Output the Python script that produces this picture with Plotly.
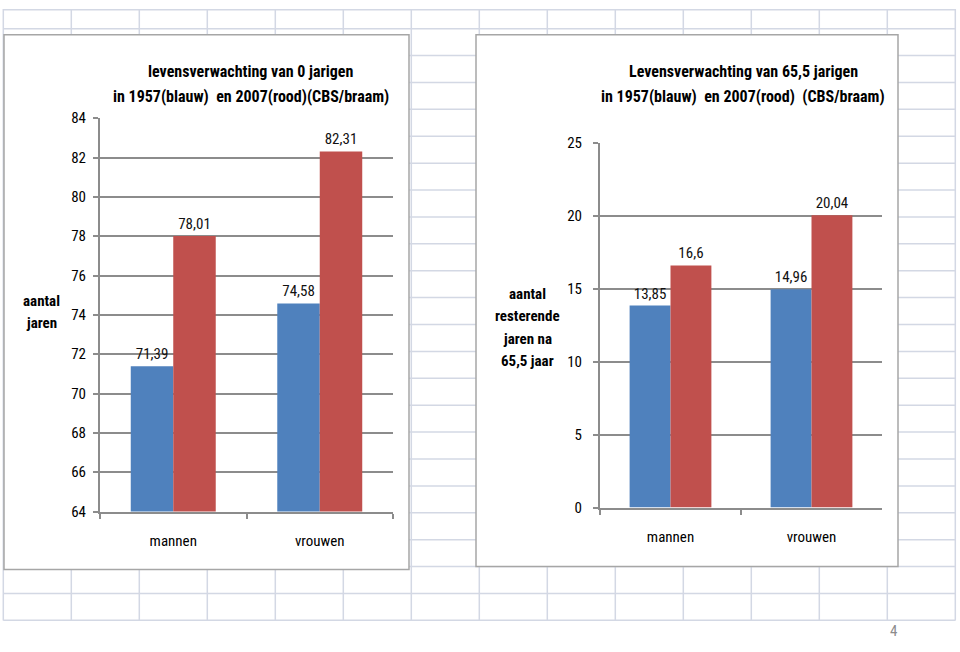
import plotly.graph_objects as go

W, H = 960, 652

categories = ["mannen", "vrouwen"]
left_1957 = [71.39, 74.58]
left_2007 = [78.01, 82.31]
right_1957 = [13.85, 14.96]
right_2007 = [16.6, 20.04]

left_title = ["levensverwachting van 0 jarigen",
              "in 1957(blauw)  en 2007(rood)(CBS/braam)"]
right_title = ["Levensverwachting van 65,5 jarigen",
               "in 1957(blauw)  en 2007(rood)  (CBS/braam)"]
left_ytitle = ["aantal", "jaren"]
right_ytitle = ["aantal", "resterende", "jaren na", "65,5 jaar"]
page_number = "4"

BLUE = "#4F81BD"
RED = "#C0504D"
FONT = "Liberation Sans Narrow, Arial Narrow, Roboto Condensed, Roboto, sans-serif"

# observed vertical mapping of the viewer: shown_y = 7.6 + 0.974 * fig_y
VA, VB = 7.6, 0.974


def X(px):
    return px / W


def Y(py):
    return 1 - ((py - VA) / VB) / H


def fmt(vals):
    return [f"{v:g}".replace(".", ",") for v in vals]


fig = go.Figure()

for vals, color, xa, ya in [
    (left_1957, BLUE, "x", "y"),
    (left_2007, RED, "x", "y"),
    (right_1957, BLUE, "x2", "y2"),
    (right_2007, RED, "x2", "y2"),
]:
    fig.add_trace(go.Bar(
        x=categories, y=vals, text=fmt(vals), textposition="outside",
        constraintext="none", cliponaxis=False,
        textfont=dict(size=15, color="#111111", family=FONT),
        marker=dict(color=color, line=dict(width=0)),
        xaxis=xa, yaxis=ya, hoverinfo="skip", showlegend=False,
    ))

shapes = []
GRID = "#D3D8E4"
gx0, gx1 = 3.3, 955.3
gy1 = 620
for k in range(15):
    x = 3.3 + 68.0 * k
    shapes.append(dict(type="line", xref="paper", yref="paper",
                       x0=X(x), x1=X(x), y0=1, y1=Y(gy1),
                       line=dict(color=GRID, width=1.5), layer="below"))
for k in range(0, 23):
    y = 27.3 + 26.94 * k
    shapes.append(dict(type="line", xref="paper", yref="paper",
                       x0=X(gx0), x1=X(gx1), y0=Y(y), y1=Y(y),
                       line=dict(color=GRID, width=1.5), layer="below"))
shapes.append(dict(type="line", xref="paper", yref="paper",
                   x0=X(gx0), x1=X(gx1), y0=0.999, y1=0.999,
                   line=dict(color=GRID, width=1.5), layer="below"))
for (x0, y0, x1, y1) in [(4, 33.5, 409, 569), (476, 33.5, 898, 566)]:
    shapes.append(dict(type="rect", xref="paper", yref="paper",
                       x0=X(x0), x1=X(x1), y0=Y(y1), y1=Y(y0),
                       fillcolor="white", line=dict(color="#A6A6A6", width=1.5),
                       layer="below"))

annotations = []


def add_lines(lines, cx, cy0, step, size):
    for i, t in enumerate(lines):
        annotations.append(dict(
            text=f"<b>{t}</b>", x=X(cx), y=Y(cy0 + i * step), xref="paper",
            yref="paper", showarrow=False,
            font=dict(size=size, family=FONT, color="#000"),
            xanchor="center", yanchor="middle"))


add_lines(left_title, 251, 70, 25, 16)
add_lines(right_title, 743, 70, 25, 16)
add_lines(left_ytitle, 41, 300, 22, 15)
add_lines(right_ytitle, 527, 293, 22.5, 15)
annotations.append(dict(text=page_number, x=X(893), y=0, xref="paper",
                        yref="paper", showarrow=False,
                        font=dict(size=15, family=FONT, color="#8C8C8C"),
                        xanchor="center", yanchor="bottom", yshift=1))

AX = "#8C8C8C"
xcommon = dict(type="category", showline=True, linecolor=AX, linewidth=2,
               ticks="outside", tickson="boundaries", ticklen=5, tickcolor=AX,
               tickwidth=2, showgrid=False, ticklabelstandoff=14,
               tickfont=dict(size=15, family=FONT, color="#000"), fixedrange=True)
ycommon = dict(showline=True, linecolor=AX, linewidth=2, ticks="outside",
               ticklen=5, tickcolor=AX, tickwidth=2, showgrid=True,
               gridcolor=AX, gridwidth=2, zeroline=False,
               tickfont=dict(size=15, family=FONT, color="#000"), fixedrange=True)

fig.update_layout(
    width=W, height=H, autosize=False, margin=dict(l=0, r=0, t=0, b=0),
    paper_bgcolor="white", plot_bgcolor="rgba(0,0,0,0)",
    barmode="group", bargap=0.42, bargroupgap=0,
    font=dict(family=FONT),
    xaxis=dict(domain=[X(100), X(393)], anchor="y", **xcommon),
    yaxis=dict(domain=[Y(511), Y(117)], anchor="x", range=[64, 84], dtick=2,
               ticklabelstandoff=4, **ycommon),
    xaxis2=dict(domain=[X(600), X(882)], anchor="y2", **xcommon),
    yaxis2=dict(domain=[Y(507), Y(141.7)], anchor="x2", range=[0, 25], dtick=5,
                ticklabelstandoff=8, **ycommon),
    shapes=shapes, annotations=annotations,
)

fig.write_html("out.html",
               post_script="document.body.style.margin='0';document.body.style.overflow='hidden';")
